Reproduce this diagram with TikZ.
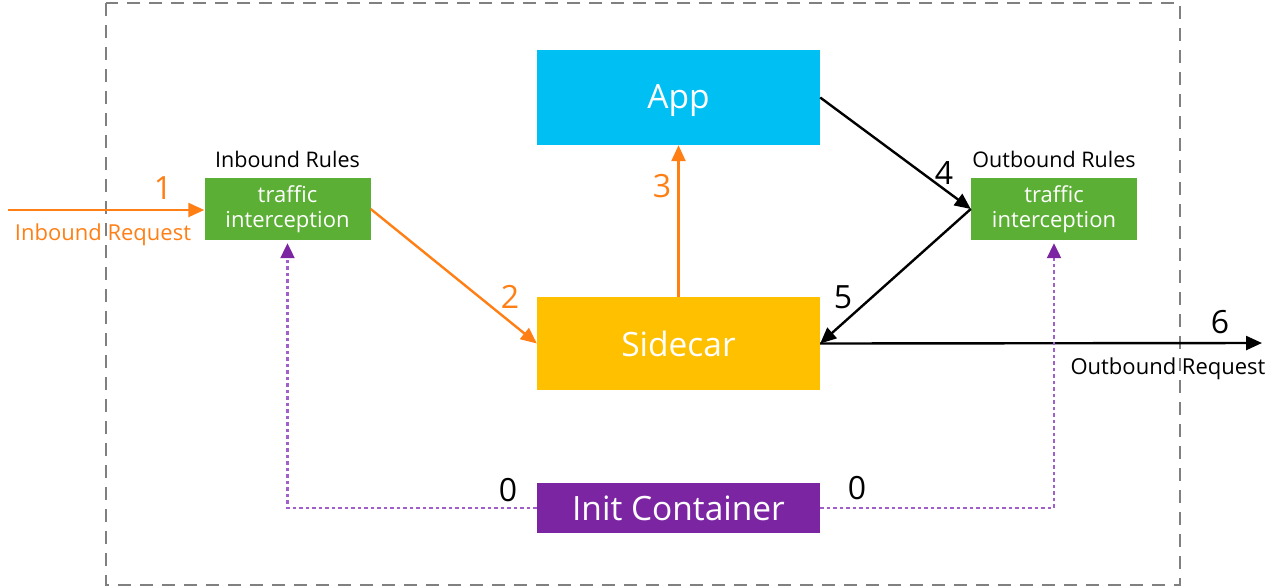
\documentclass[tikz,border=0pt]{standalone}
\usepackage{fontspec}
\setmainfont{Open Sans}
\usetikzlibrary{arrows.meta}
\definecolor{appblue}{HTML}{00BFF3}
\definecolor{sidecarorange}{HTML}{FFC000}
\definecolor{initpurple}{HTML}{7B25A3}
\definecolor{rulegreen}{HTML}{5BAF35}
\definecolor{flowor}{HTML}{FF7F15}
\definecolor{dotpurple}{HTML}{A15FCB}
\definecolor{bordergray}{HTML}{808080}
\tikzset{
  bigbox/.style={draw=none, minimum width=283pt, inner sep=0pt, font=\fontsize{33.5}{38}\selectfont, text=white},
  rulebox/.style={fill=rulegreen, minimum width=166pt, minimum height=62pt, inner sep=0pt, align=center, text=white, font=\fontsize{22}{25}\selectfont},
  title/.style={font=\fontsize{21.5}{25}\selectfont, text=black},
  reqlabel/.style={font=\fontsize{22}{26}\selectfont},
  num/.style={font=\fontsize{32}{36}\selectfont},
  orflow/.style={draw=flowor, line width=2.4pt, -{Triangle[length=16pt,width=14pt]}},
  blflow/.style={draw=black, line width=2.4pt, -{Triangle[length=16pt,width=14pt]}},
  initflow/.style={draw=dotpurple, line width=2.2pt, dash pattern=on 3.5pt off 3pt, -{Triangle[length=15pt,width=14pt,color=initpurple]}},
}
\begin{document}
\begin{tikzpicture}[x=1pt,y=-1pt]
\useasboundingbox (0,0) rectangle (1281,587);
\draw[bordergray, line width=2.4pt, dash pattern=on 13pt off 9pt] (106,3) rectangle (1180,585);

\node[bigbox, fill=appblue, minimum height=95pt, text depth=3pt] (app) at (678.5,97.5) {App};
\node[bigbox, fill=sidecarorange, minimum height=93pt] (side) at (678.5,343.5) {Sidecar};
\node[bigbox, fill=initpurple, minimum height=50pt] (init) at (678.5,508) {Init Container};

\node[rulebox] (inb) at (287.5,209) {traffic\\interception};
\node[rulebox] (outb) at (1054,209) {traffic\\interception};
\node[title, anchor=base] (inbt) at ([yshift=10pt]inb.north) {Inbound Rules};
\node[title, anchor=base] (outbt) at ([yshift=10pt]outb.north) {Outbound Rules};

\coordinate (instart) at (8,210);
\coordinate (outend) at (1262,343);

% orange path
\draw[orflow] (instart) -- (inb.west |- instart);
\node[num, text=flowor] (n1) at (163,188) {1};
\node[reqlabel, text=flowor] (inreq) at (103,235) {Inbound Request};
\draw[orflow] (inb.east) -- (side.west);
\node[num, text=flowor] (n2) at (510,297) {2};
\draw[orflow] (side.north) -- (app.south);
\node[num, text=flowor] (n3) at (662,186) {3};

% black path
\draw[blflow] (app.east) -- (outb.west);
\node[num] (n4) at (944,173) {4};
\draw[blflow] (outb.west) -- (side.east);
\node[num] (n5) at (843,297) {5};
\draw[blflow] (side.east) -- (outend);
\node[num] (n6) at (1220,322) {6};
\node[reqlabel] (outreq) at (1168,369) {Outbound Request};

% init container
\draw[initflow] (init.west) -| ([yshift=-3pt]inb.south);
\draw[initflow] (init.east) -| ([yshift=-3pt]outb.south);
\node[num] (z1) at (508,490) {0};
\node[num] (z2) at (857,488) {0};
\end{tikzpicture}
\end{document}
